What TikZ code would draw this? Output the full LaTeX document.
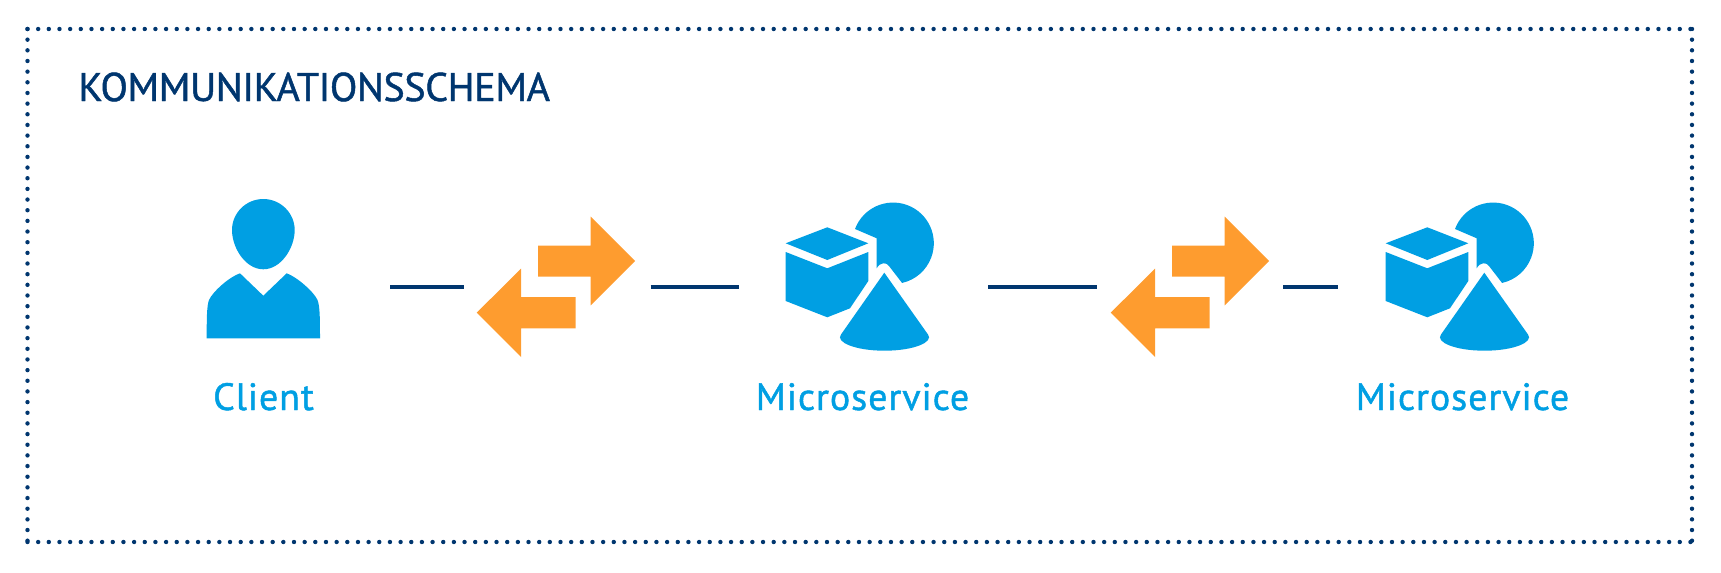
\documentclass[tikz,border=0pt]{standalone}
\usepackage{fontspec}
\setmainfont{PT Sans}
\newfontfamily\titlefont[LetterSpace=-0.9,FakeBold=1.2]{PT Sans}
\newfontfamily\labelfont[LetterSpace=2.5,FakeBold=1.2]{PT Sans}
\usetikzlibrary{positioning}
\definecolor{navy}{HTML}{00366F}
\definecolor{iconblue}{HTML}{009FE3}
\definecolor{swaporange}{HTML}{FE9C2F}
\tikzset{
  framedots/.style={navy,line width=2.2pt,line cap=round,dash pattern=on 0pt off 5.33pt},
  wire/.style={navy,line width=2pt},
  iconlabel/.style={iconblue,inner sep=0pt,anchor=base,font=\labelfont\fontsize{19}{23}\selectfont},
}
\begin{document}
\begin{tikzpicture}[x=.5pt,y=.5pt,yscale=-1]
\useasboundingbox (0,0) rectangle (1721,573);
% dotted frame and heading
\draw[framedots] (27.5,29)--(1692,29);
\draw[framedots] (27.5,542)--(1692,542);
\draw[framedots] (27.5,29)--(27.5,542);
\draw[framedots] (1692,29)--(1692,542);
\node[navy,inner sep=0pt,anchor=base west,font=\titlefont\fontsize{20}{24}\selectfont] (heading) at (78,101) {KOMMUNIKATIONSSCHEMA};
% client
\fill[iconblue] (263.3,199) .. controls (280.5,199) and (294.7,213) .. (294.7,230)
  .. controls (294.7,248) and (281,269.3) .. (263.3,269.3)
  .. controls (245.6,269.3) and (232,248) .. (232,230)
  .. controls (232,213) and (246,199) .. (263.3,199)--cycle;
\fill[iconblue] (240,273.3)--(263.3,295.7)--(286.7,273.3)
  .. controls (297,277) and (314,292) .. (317.5,300)
  .. controls (320,306) and (320,320) .. (320,338.3)
  --(206.7,338.3)
  .. controls (206.7,320) and (206.7,306) .. (209,300)
  .. controls (212.5,292) and (229,277) .. (240,273.3)--cycle;
\node[iconlabel] (client) at (263.5,410) {Client};
% services
\foreach \i/\dx in {1/0,2/600}{
  \begin{scope}[xshift=\dx*.5pt]
  \fill[iconblue] (785.7,243.3)--(827.3,227.3)--(868.3,243.3)--(827.3,260)--cycle;
  \fill[iconblue] (785.7,252)--(827.3,268.3)--(868.3,252)--(868.3,281)--(850,308.3)--(827.3,317.3)--(785.7,301)--cycle;
  \fill[iconblue] (855,229) arc[start angle=-159.5,end angle=77.3,radius=40.7]
    --(889,266) .. controls (886.5,262) and (880,262) .. (876.7,268.3)--(876.7,238.3)--cycle;
  \fill[iconblue] (884.3,272.7)--(841,334.5)
    .. controls (835,342) and (855,350.7) .. (884.5,350.7)
    .. controls (914,350.7) and (934,342) .. (928,334.5)--cycle;
  \node[iconlabel] (service\i) at (862.5,410) {Microservice};
  \end{scope}
}
% orange exchange arrows
\foreach \dx in {0,634}{
  \begin{scope}[xshift=\dx*.5pt]
  \fill[swaporange] (538,245.7)--(590.7,245.7)--(590.7,216.7)--(635,261)--(590.7,305.3)--(590.7,276.7)--(538,276.7)--cycle;
  \fill[swaporange] (575.7,297)--(521,297)--(521,268.7)--(476.7,312.7)--(521,357)--(521,328.3)--(575.7,328.3)--cycle;
  \end{scope}
}
% wires
\coordinate (wireA) at (390,286.7);
\coordinate (wireB) at (464.3,286.7);
\coordinate (wireC) at (650.7,286.7);
\coordinate (wireD) at (738.7,286.7);
\coordinate (wireE) at (988,286.7);
\coordinate (wireF) at (1096.5,286.7);
\coordinate (wireG) at (1283,286.7);
\coordinate (wireH) at (1338,286.7);
\draw[wire] (wireA)--(wireB);
\draw[wire] (wireC)--(wireD);
\draw[wire] (wireE)--(wireF);
\draw[wire] (wireG)--(wireH);
\end{tikzpicture}
\end{document}
